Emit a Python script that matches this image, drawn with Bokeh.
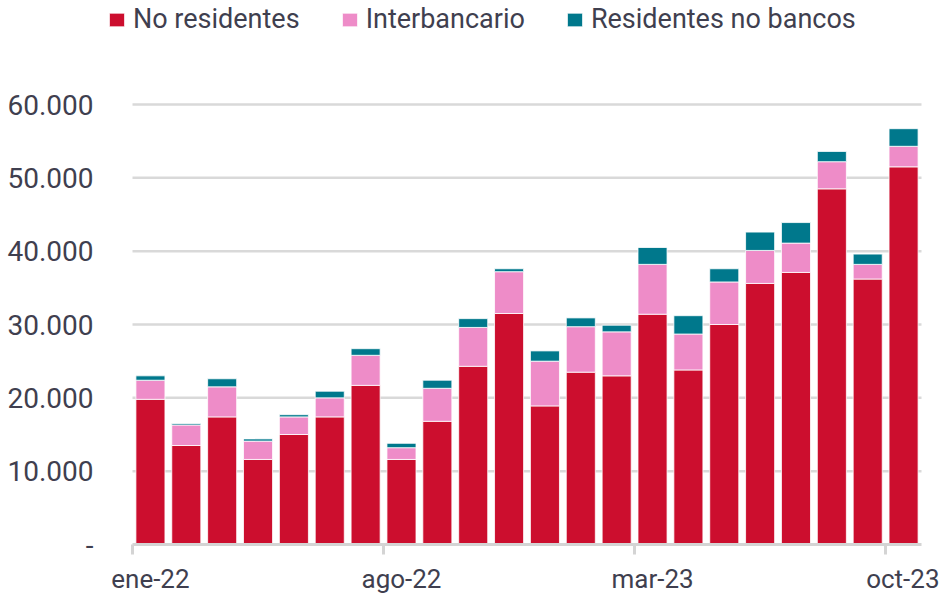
from bokeh.plotting import figure
from bokeh.models import ColumnDataSource, FixedTicker, Legend, LegendItem, Range1d
from bokeh.embed import file_html
from bokeh.resources import INLINE

months = ["ene-22", "feb-22", "mar-22", "abr-22", "may-22", "jun-22", "jul-22",
          "ago-22", "sep-22", "oct-22", "nov-22", "dic-22", "ene-23", "feb-23",
          "mar-23", "abr-23", "may-23", "jun-23", "jul-23", "ago-23", "sep-23", "oct-23"]
no_residentes = [19800, 13500, 17400, 11600, 15000, 17400, 21700, 11600, 16800, 24300, 31500,
                 18900, 23500, 23000, 31400, 23800, 30000, 35600, 37100, 48500, 36200, 51500]
interbancario = [2600, 2800, 4100, 2500, 2400, 2600, 4100, 1600, 4500, 5300, 5700,
                 6100, 6200, 6000, 6800, 4900, 5800, 4500, 4000, 3700, 2000, 2800]
residentes_no_bancos = [600, 200, 1100, 300, 300, 900, 900, 600, 1100, 1200, 400,
                        1400, 1200, 900, 2300, 2500, 1800, 2500, 2800, 1400, 1400, 2400]
series_names = ["No residentes", "Interbancario", "Residentes no bancos"]
y_ticks = [0, 10000, 20000, 30000, 40000, 50000, 60000]
x_label_months = ["ene-22", "ago-22", "mar-23", "oct-23"]

colors = ["#CC0E2E", "#EE8CC8", "#00788C"]
FONT = "Roboto"
TXT = "#3f3f4f"
GRID = "#d9d9d9"

n = len(months)
idx = list(range(n))
src = ColumnDataSource(dict(x=idx, nr=no_residentes, ib=interbancario, rnb=residentes_no_bancos))

# ---- layout in picture pixels (the figure's top-left lands at about (0, 1)) ----
page_x0, page_y0 = 0, 1
fig_w, fig_h = 939, 594
frame_left = page_x0
frame_right = page_x0 + fig_w
frame_top = page_y0
frame_bottom = page_y0 + fig_h
cat_left_px, cat_right_px = 132, 921  # first / last category boundary
zero_px, top_px = 545, 105            # y of 0 and of 60.000
ylabel_right_px = 93
legend_left_px, legend_mid_px = 107, 20

cat_px = (cat_right_px - cat_left_px) / n
x_start = -0.5 - (cat_left_px - frame_left) / cat_px
x_end = -0.5 + (frame_right - cat_left_px) / cat_px
per_px = 60000 / (zero_px - top_px)
y_start = -(frame_bottom - zero_px) * per_px
y_end = (zero_px - frame_top) * per_px

p = figure(width=fig_w, height=fig_h, output_backend="svg", toolbar_location=None,
           x_range=Range1d(x_start, x_end), y_range=Range1d(y_start, y_end),
           min_border_left=0, min_border_right=0, min_border_top=0,
           min_border_bottom=0)
p.outline_line_color = None
p.background_fill_color = "white"
p.border_fill_color = "white"
p.xgrid.grid_line_color = None
p.ygrid.grid_line_color = None

# horizontal grid lines across the category span only
grid_src = ColumnDataSource(dict(y=y_ticks[1:], x0=[-0.5] * (len(y_ticks) - 1),
                                 x1=[n - 0.5] * (len(y_ticks) - 1)))
p.segment(x0="x0", x1="x1", y0="y", y1="y", source=grid_src, line_color=GRID,
          line_width=2.5, level="underlay")

renderers = p.vbar_stack(["nr", "ib", "rnb"], x="x", width=0.81, color=colors,
                         line_color="white", line_width=0.8, source=src)

p.yaxis.fixed_location = -0.5
p.yaxis.ticker = FixedTicker(ticks=y_ticks)
p.yaxis.major_label_overrides = {t: ("-" if t == 0 else f"{t:,}".replace(",", ".")) for t in y_ticks}
p.yaxis.axis_line_color = None
p.yaxis.major_tick_line_color = None
p.yaxis.minor_tick_line_color = None
p.yaxis.major_tick_out = 0
p.yaxis.major_tick_in = 0
p.yaxis.major_label_standoff = cat_left_px - ylabel_right_px
p.yaxis.major_label_text_font = FONT
p.yaxis.major_label_text_font_size = "28px"
p.yaxis.major_label_text_color = TXT

label_pos = [months.index(m) for m in x_label_months]
p.xaxis.fixed_location = 0
p.xaxis.bounds = (-0.5, n - 0.5)
p.xaxis.ticker = FixedTicker(ticks=label_pos, minor_ticks=[i - 0.5 for i in label_pos])
p.xaxis.major_label_overrides = {i: months[i] for i in label_pos}
p.xaxis.axis_line_color = "#d4d4d4"
p.xaxis.axis_line_width = 3
p.xaxis.major_tick_line_color = None
p.xaxis.major_tick_out = 0
p.xaxis.major_tick_in = 0
p.xaxis.minor_tick_line_color = "#d4d4d4"
p.xaxis.minor_tick_line_width = 3
p.xaxis.minor_tick_out = 10
p.xaxis.minor_tick_in = 0
p.xaxis.major_label_standoff = 9
p.xaxis.major_label_text_font = FONT
p.xaxis.major_label_text_font_size = "26px"
p.xaxis.major_label_text_color = TXT

legend = Legend(items=[LegendItem(label=s, renderers=[r]) for s, r in zip(series_names, renderers)],
                orientation="horizontal",
                location=(legend_left_px - frame_left, frame_bottom - (legend_mid_px + 16)))
legend.label_text_font = FONT
legend.label_text_font_size = "27px"
legend.label_text_color = TXT
legend.glyph_width = 19
legend.glyph_height = 17
legend.label_standoff = 7
legend.spacing = 40
legend.padding = 0
legend.margin = 0
legend.border_line_color = None
legend.background_fill_alpha = 0
p.add_layout(legend, "center")

open("out.html", "w").write(file_html(p, INLINE))
